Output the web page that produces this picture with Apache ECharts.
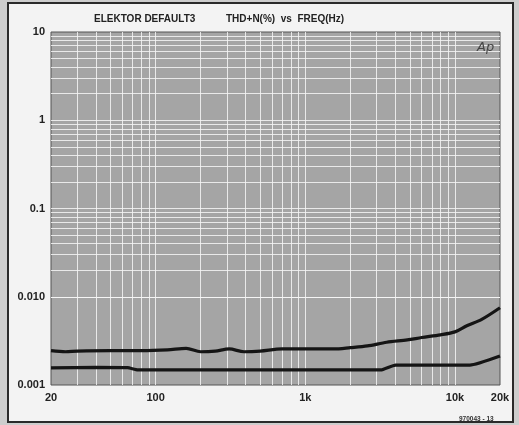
<!DOCTYPE html>
<html>
<head>
<meta charset="utf-8">
<script src="https://cdn.jsdelivr.net/npm/echarts@6/dist/echarts.min.js"></script>
<style>
html,body{margin:0;padding:0;background:#cdcdcd;}
#c{width:519px;height:425px;}
</style>
</head>
<body>
<div id="c"></div>
<script>
// ---- data ----
var upperFreq = [20, 25, 30, 50, 80, 120, 160, 200, 250, 310, 390, 500, 700, 1000, 1550, 2000, 2600, 3500, 4800, 6000, 8000, 10000, 12000, 15000, 20000];
var upperThd  = [0.00245, 0.00238, 0.00242, 0.00245, 0.00245, 0.0025, 0.0026, 0.00238, 0.00242, 0.00256, 0.00238, 0.00242, 0.00256, 0.00256, 0.00256, 0.00265, 0.00277, 0.00305, 0.00324, 0.00345, 0.0037, 0.004, 0.0047, 0.0055, 0.0075];
var lowerFreq = [20, 40, 65, 76, 1000, 3200, 4000, 12600, 20000];
var lowerThd  = [0.00156, 0.00158, 0.00157, 0.00148, 0.00148, 0.00148, 0.00168, 0.00168, 0.00213];
var xTickValues = [20, 100, 1000, 10000, 20000];
var xTickLabels = ['20', '100', '1k', '10k', '20k'];
var yTickValues = [0.001, 0.01, 0.1, 1, 10];
var yTickLabels = ['0.001', '0.010', '0.1', '1', '10'];

function zip(a, b) { return a.map(function (v, i) { return [v, b[i]]; }); }

// log grid lines (1..9 per decade)
var xGrid = [], yGrid = [];
[10, 100, 1000, 10000].forEach(function (d) {
  for (var k = 1; k <= 9; k++) { var v = d * k; if (v > 20 && v < 20000) xGrid.push(v); }
});
[0.001, 0.01, 0.1, 1].forEach(function (d) {
  for (var k = 1; k <= 9; k++) { var v = +(d * k).toPrecision(3); if (v > 0.001 && v < 10) yGrid.push(v); }
});

var font = '"Liberation Sans Narrow","Liberation Sans",Arial,sans-serif';
var chart = echarts.init(document.getElementById('c'));
chart.setOption({
  animation: false,
  backgroundColor: '#cdcdcd',
  title: [
    { text: 'ELEKTOR DEFAULT3', left: 89, top: 9, textStyle: { fontFamily: font, fontWeight: 'bold', fontSize: 10, color: '#222' } },
    { text: 'THD+N(%)  vs  FREQ(Hz)', left: 221, top: 9, textStyle: { fontFamily: font, fontWeight: 'bold', fontSize: 10, color: '#222' } },
    { text: 'Ap', left: 472, top: 36, textStyle: { fontFamily: '"DejaVu Sans",sans-serif', fontStyle: 'italic', fontWeight: 'normal', fontSize: 13, color: '#444' } },
    { text: '970043 - 13', left: 454, top: 411, textStyle: { fontFamily: font, fontWeight: 'bold', fontSize: 6.5, color: '#333' } }
  ],
  graphic: [
    { type: 'rect', z: -10, shape: { x: 8, y: 3, width: 505, height: 419 }, style: { fill: '#f3f3f3', stroke: '#2a2a2a', lineWidth: 2 } }
  ],
  grid: { left: 51, right: 19, top: 32, bottom: 40, show: true, backgroundColor: '#a5a5a5', borderColor: '#555', borderWidth: 1 },
  xAxis: {
    type: 'log', logBase: 10, min: 20, max: 20000,
    axisLine: { show: false }, axisTick: { show: false },
    splitLine: { show: false }, minorSplitLine: { show: false },
    axisLabel: {
      customValues: xTickValues,
      formatter: function (v) { var i = xTickValues.findIndex(function (t) { return Math.abs(t - v) / t < 1e-6; }); return i >= 0 ? xTickLabels[i] : ''; },
      fontFamily: font, fontWeight: 'bold', fontSize: 11, color: '#222', margin: 7
    }
  },
  yAxis: {
    type: 'log', logBase: 10, min: 0.001, max: 10,
    axisLine: { show: false }, axisTick: { show: false },
    splitLine: { show: false }, minorSplitLine: { show: false },
    axisLabel: {
      customValues: yTickValues,
      formatter: function (v) { var i = Math.round(Math.log10(v)) + 3; return yTickLabels[i] || ''; },
      fontFamily: font, fontWeight: 'bold', fontSize: 11, color: '#222', margin: 6
    }
  },
  series: [
    {
      type: 'line', data: [], silent: true,
      markLine: {
        silent: true, symbol: 'none', animation: false, label: { show: false },
        lineStyle: { color: '#f4f4f4', width: 1, type: 'solid', opacity: 0.85 },
        data: xGrid.map(function (v) { return { xAxis: v }; }).concat(yGrid.map(function (v) { return { yAxis: v }; }))
      }
    },
    { type: 'line', data: zip(upperFreq, upperThd), symbol: 'none', smooth: 0.3, lineStyle: { color: '#151515', width: 3.2 }, z: 5 },
    { type: 'line', data: zip(lowerFreq, lowerThd), symbol: 'none', smooth: 0.15, lineStyle: { color: '#151515', width: 3.2 }, z: 5 }
  ]
});
</script>
</body>
</html>
